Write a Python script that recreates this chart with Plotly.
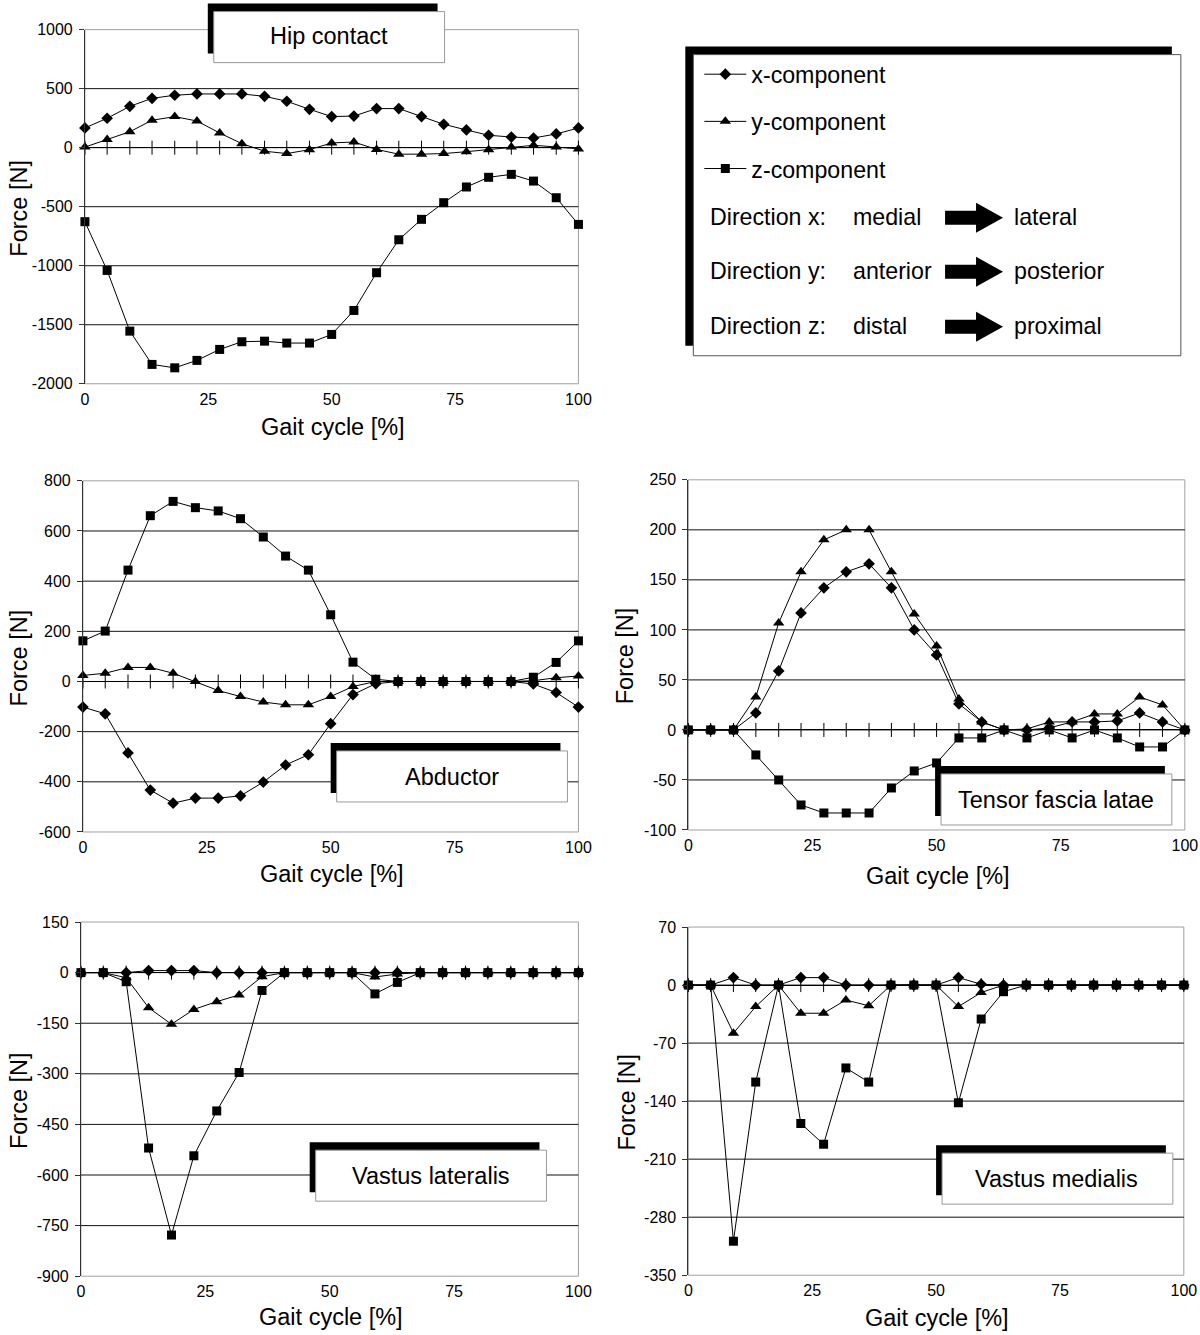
import plotly.graph_objects as go

W, H = 1200, 1335
FONT = "Liberation Sans, Arial, sans-serif"
# the captured page comes out slightly shrunk and shifted; positions below are
# the wanted screen pixels and are mapped back through this correction
SCALE = 0.9868
SHIFT_X, SHIFT_Y = 3.0, 7.4

# gait cycle sample positions (23 samples, 0..100 %)
GAIT = [0, 4.5, 9.1, 13.6, 18.2, 22.7, 27.3, 31.8, 36.4, 40.9, 45.5, 50,
        54.5, 59.1, 63.6, 68.2, 72.7, 77.3, 81.8, 86.4, 90.9, 95.5, 100]
XTICKS = [0, 25, 50, 75, 100]

# Hip contact
HIP_X = [167, 249, 350, 418, 444, 455, 455, 455, 435, 393, 325, 263,
         268, 331, 331, 263, 198, 150, 105, 90, 82, 116, 167]
HIP_Y = [5, 70, 135, 232, 263, 226, 124, 34, -30, -50, -17, 40,
         48, -15, -55, -55, -50, -34, -17, 6, 20, 6, -11]
HIP_Z = [-627, -1040, -1554, -1836, -1865, -1802, -1709, -1644, -1639, -1655, -1655, -1582,
         -1379, -1059, -780, -607, -466, -333, -251, -226, -283, -424, -650]
HIP_YTICKS = [-2000, -1500, -1000, -500, 0, 500, 1000]

# Abductor
ABD_X = [-102, -129, -285, -433, -485, -465, -465, -456, -401, -333, -292, -168,
         -52, -9, 0, 0, 0, 0, 0, 0, -10, -44, -102]
ABD_Y = [24, 33, 56, 56, 33, 0, -36, -60, -82, -93, -93, -60,
         -20, 0, 0, 0, 0, 0, 0, 0, 3, 15, 22]
ABD_Z = [162, 201, 444, 661, 718, 693, 680, 649, 576, 500, 444, 266,
         77, 9, 0, 0, 0, 0, 0, 0, 17, 76, 162]
ABD_YTICKS = [-600, -400, -200, 0, 200, 400, 600, 800]

# Tensor fascia latae
TFL_X = [0, 0, 0, 17, 59, 117, 142, 158, 166, 142, 100, 75,
         26, 8, 0, 0, 2, 8, 8, 9, 17, 8, 0]
TFL_Y = [0, 0, 0, 33, 107, 158, 190, 200, 200, 158, 116, 84,
         31, 8, 0, 1, 8, 8, 16, 16, 33, 25, 0]
TFL_Z = [0, 0, 0, -25, -50, -75, -83, -83, -83, -58, -41, -33,
         -8, -8, 0, -8, 0, -8, 0, -8, -17, -17, 0]
TFL_YTICKS = [-100, -50, 0, 50, 100, 150, 200, 250]

# Vastus lateralis
VL_X = [0, 0, 0, 6, 6, 6, 0, 0, 0, 0, 0, 0,
        0, 0, 0, 0, 0, 0, 0, 0, 0, 0, 0]
VL_Y = [0, 0, -15, -104, -153, -109, -86, -66, -12, 0, 0, 0,
        0, -13, -4, 0, 0, 0, 0, 0, 0, 0, 0]
VL_Z = [0, 0, -27, -520, -778, -543, -410, -296, -53, 0, 0, 0,
        0, -63, -29, 0, 0, 0, 0, 0, 0, 0, 0]
VL_YTICKS = [-900, -750, -600, -450, -300, -150, 0, 150]

# Vastus medialis
VM_X = [0, 0, 9, 0, 0, 9, 9, 0, 0, 0, 0, 0,
        9, 1, 0, 0, 0, 0, 0, 0, 0, 0, 0]
VM_Y = [0, 0, -58, -26, 0, -34, -34, -18, -25, 0, 0, 0,
        -26, -9, 0, 0, 0, 0, 0, 0, 0, 0, 0]
VM_Z = [0, 0, -309, -117, 0, -167, -192, -100, -117, 0, 0, 0,
        -142, -41, -8, 0, 0, 0, 0, 0, 0, 0, 0]
VM_YTICKS = [-350, -280, -210, -140, -70, 0, 70]

NAMES = ["x-component", "y-component", "z-component"]
SYMBOLS = ["diamond", "triangle-up", "square"]
SIZES = [9, 10, 9]

TITLE_SIZE = 23.5
LEGEND_SIZE = 23.2

# layout of each panel in screen pixels
PANELS = [
    {"title": "Hip contact", "data": [HIP_X, HIP_Y, HIP_Z], "yticks": HIP_YTICKS,
     "px": (84, 578), "py": (29, 383), "box": (207, 3), "ytitle_x": 18, "xtitle_y": 426},
    {"title": "Abductor", "data": [ABD_X, ABD_Y, ABD_Z], "yticks": ABD_YTICKS,
     "px": (82, 578), "py": (480, 831), "box": (330, 742), "ytitle_x": 18, "xtitle_y": 873},
    {"title": "Tensor fascia latae", "data": [TFL_X, TFL_Y, TFL_Z], "yticks": TFL_YTICKS,
     "px": (688, 1185), "py": (479, 829), "box": (935, 765), "ytitle_x": 625, "xtitle_y": 875},
    {"title": "Vastus lateralis", "data": [VL_X, VL_Y, VL_Z], "yticks": VL_YTICKS,
     "px": (80, 578), "py": (921, 1275), "box": (309, 1141), "ytitle_x": 18, "xtitle_y": 1316},
    {"title": "Vastus medialis", "data": [VM_X, VM_Y, VM_Z], "yticks": VM_YTICKS,
     "px": (688, 1184), "py": (926, 1274), "box": (936, 1144), "ytitle_x": 627, "xtitle_y": 1317},
]


def fx(x):
    return (x - SHIFT_X) / SCALE / W


def fy(y):
    return 1 - (y - SHIFT_Y) / SCALE / H


def label(x, y, text, size=TITLE_SIZE, **kw):
    d = dict(xref="paper", yref="paper", x=fx(x), y=fy(y), text=text,
             showarrow=False, xanchor="center", yanchor="middle",
             font=dict(size=size, color="black"))
    d.update(kw)
    return d


fig = go.Figure()
shapes = []
annotations = []
layout = {}

for i, p in enumerate(PANELS):
    n = "" if i == 0 else str(i + 1)
    xa, ya = "x" + n, "y" + n
    x0, x1 = p["px"]
    y0, y1 = p["py"]
    yt = p["yticks"]

    layout["xaxis" + n] = dict(
        domain=[fx(x0), min(fx(x1), 1)], anchor=ya, range=[0, 100],
        tickvals=XTICKS, ticks="", showgrid=False, zeroline=False,
        showline=False, tickfont=dict(size=16, color="black"),
        ticklabelstandoff=4, fixedrange=True,
    )
    layout["yaxis" + n] = dict(
        domain=[fy(y1), fy(y0)], anchor=xa, range=[yt[0], yt[-1]],
        tickvals=yt, ticktext=[str(v) for v in yt], showgrid=False,
        zeroline=True, zerolinecolor="#000", zerolinewidth=1,
        showline=True, linecolor="#333", linewidth=1,
        ticks="outside", ticklen=5, tickcolor="#333",
        tickfont=dict(size=16, color="black"), ticklabelstandoff=3,
        fixedrange=True,
    )

    # grey plot-area border, black gridlines only inside
    shapes.append(dict(type="rect", xref=xa + " domain", yref=ya + " domain",
                       x0=0, x1=1, y0=0, y1=1, layer="below",
                       line=dict(color="#a0a0a0", width=1)))
    for v in yt[1:-1]:
        shapes.append(dict(type="line", xref=xa + " domain", yref=ya,
                           x0=0, x1=1, y0=v, y1=v, layer="below",
                           line=dict(color="#111", width=1)))

    # tick marks along the zero line, one per sample
    fig.add_trace(go.Scatter(
        x=GAIT, y=[0] * len(GAIT), xaxis=xa, yaxis=ya, mode="markers",
        marker=dict(symbol="line-ns", size=10, line=dict(color="black", width=1)),
        showlegend=False, hoverinfo="skip", cliponaxis=False,
    ))
    for k, series in enumerate(p["data"]):
        fig.add_trace(go.Scatter(
            x=GAIT, y=series, xaxis=xa, yaxis=ya, mode="lines+markers",
            name=NAMES[k], legendgroup=NAMES[k], showlegend=(i == 0),
            line=dict(color="black", width=1),
            marker=dict(symbol=SYMBOLS[k], size=SIZES[k], color="black"),
            cliponaxis=False,
        ))

    # title box with black drop edge
    bx, by = p["box"]
    shapes.append(dict(type="rect", xref="paper", yref="paper", layer="above",
                       x0=fx(bx), x1=fx(bx + 230), y0=fy(by + 50), y1=fy(by),
                       fillcolor="black", line=dict(width=0)))
    shapes.append(dict(type="rect", xref="paper", yref="paper", layer="above",
                       x0=fx(bx + 6), x1=fx(bx + 237), y0=fy(by + 59), y1=fy(by + 8),
                       fillcolor="white", line=dict(color="#999", width=1)))
    annotations.append(label(bx + 121, by + 34 if i else 35, p["title"]))

    # axis titles
    annotations.append(label((x0 + x1) / 2 + 1, p["xtitle_y"], "Gait cycle [%]"))
    annotations.append(label(p["ytitle_x"], (y0 + y1) / 2 + 1, "Force [N]", textangle=-90))

# legend box
shapes.append(dict(type="rect", xref="paper", yref="paper", layer="above",
                   x0=fx(685), x1=fx(1172), y0=fy(345), y1=fy(46),
                   fillcolor="black", line=dict(width=0)))
shapes.append(dict(type="rect", xref="paper", yref="paper", layer="above",
                   x0=fx(693), x1=fx(1181), y0=fy(355), y1=fy(54),
                   fillcolor="white", line=dict(color="#555", width=1)))

DIRECTIONS = [("Direction x:", "medial", "lateral"),
              ("Direction y:", "anterior", "posterior"),
              ("Direction z:", "distal", "proximal")]
ROW_Y = [217, 271, 326]
for (lab, a, b), cy in zip(DIRECTIONS, ROW_Y):
    for txt, x in ((lab, 708), (a, 851), (b, 1012)):
        annotations.append(label(x, cy - 1, txt, size=LEGEND_SIZE, xanchor="left"))
    pts = [(945, cy - 7), (976, cy - 7), (976, cy - 15), (1003, cy),
           (976, cy + 15), (976, cy + 7), (945, cy + 7)]
    path = "M" + " L".join(f"{fx(x):.5f},{fy(y):.5f}" for x, y in pts) + " Z"
    shapes.append(dict(type="path", xref="paper", yref="paper", path=path,
                       fillcolor="black", line=dict(width=0), layer="above"))

fig.update_layout(
    width=W, height=H,
    margin=dict(l=0, r=0, t=0, b=0),
    paper_bgcolor="white", plot_bgcolor="white",
    font=dict(family=FONT, size=16, color="black"),
    shapes=shapes, annotations=annotations,
    showlegend=True,
    legend=dict(x=fx(699), y=fy(52), xanchor="left", yanchor="top",
                bgcolor="rgba(0,0,0,0)", borderwidth=0,
                font=dict(size=LEGEND_SIZE, color="black"),
                traceorder="grouped", tracegroupgap=14, itemwidth=42),
    **layout,
)

fig.write_html(
    "out.html",
    config={"displayModeBar": False, "responsive": False},
    post_script=(
        "document.documentElement.style.margin='0';"
        "document.body.style.margin='0';"
        "document.body.style.padding='0';"
        "document.documentElement.style.overflow='hidden';"
        "document.body.style.overflow='hidden';"
    ),
)
